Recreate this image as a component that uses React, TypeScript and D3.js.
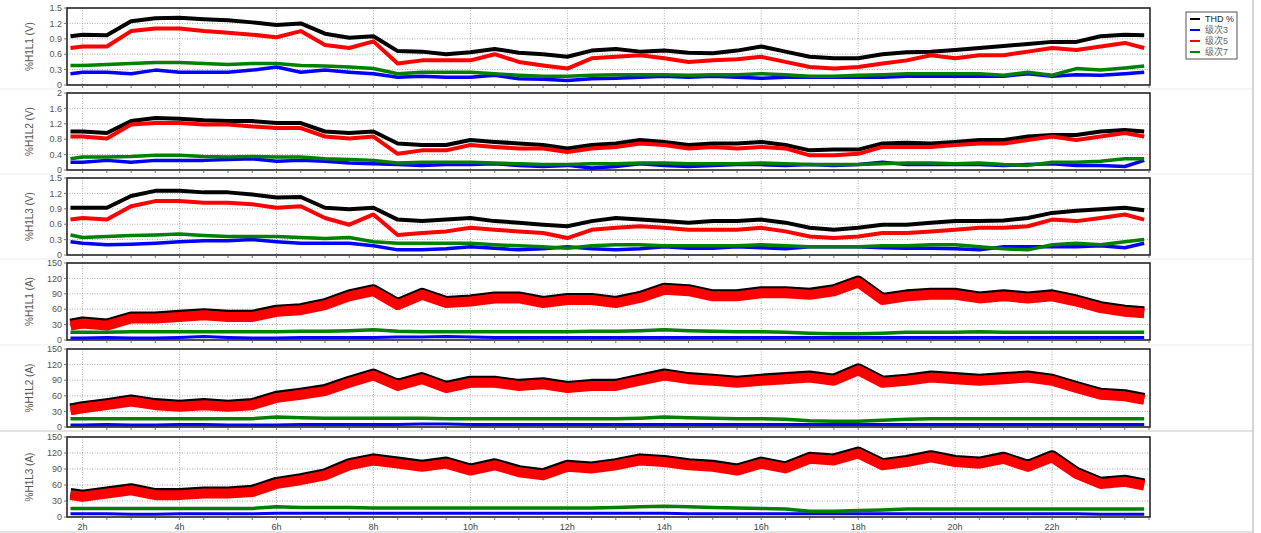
import * as d3 from 'd3';

// sample times (hours of day)
const times = [1.75, 2, 2.5, 3, 3.5, 4, 4.5, 5, 5.5, 6, 6.5, 7, 7.5, 8, 8.5, 9, 9.5, 10, 10.5, 11, 11.5, 12,
  12.5, 13, 13.5, 14, 14.5, 15, 15.5, 16, 16.5, 17, 17.5, 18, 18.5, 19, 19.5, 20, 20.5, 21, 21.5, 22, 22.5, 23, 23.5, 23.9];

const hourTicks = [2, 4, 6, 8, 10, 12, 14, 16, 18, 20, 22];
const hourLabels = ['2h', '4h', '6h', '8h', '10h', '12h', '14h', '16h', '18h', '20h', '22h'];

const ticksV15 = [0, 0.3, 0.6, 0.9, 1.2, 1.5];
const ticksV20 = [0, 0.4, 0.8, 1.2, 1.6, 2];
const ticksA = [0, 30, 60, 90, 120, 150];

const seriesNames = ['THD %', '级次3', '级次5', '级次7'];

// %H1L1 (V)
const thdL1V = [0.95, 0.98, 0.97, 1.24, 1.30, 1.31, 1.28, 1.26, 1.22, 1.17, 1.20, 1.00, 0.92, 0.95, 0.66, 0.65, 0.60, 0.64, 0.70, 0.63, 0.60, 0.55, 0.67, 0.70, 0.65, 0.67, 0.63, 0.62, 0.67, 0.75, 0.65, 0.55, 0.52, 0.52, 0.60, 0.64, 0.65, 0.68, 0.72, 0.76, 0.80, 0.84, 0.84, 0.95, 0.98, 0.97];
const h3L1V = [0.22, 0.25, 0.25, 0.22, 0.29, 0.25, 0.25, 0.25, 0.29, 0.35, 0.25, 0.29, 0.25, 0.22, 0.15, 0.17, 0.15, 0.15, 0.19, 0.12, 0.11, 0.09, 0.12, 0.13, 0.15, 0.17, 0.15, 0.17, 0.15, 0.13, 0.15, 0.15, 0.15, 0.15, 0.15, 0.17, 0.17, 0.17, 0.17, 0.17, 0.22, 0.17, 0.20, 0.19, 0.22, 0.25];
const h5L1V = [0.72, 0.75, 0.75, 1.05, 1.10, 1.10, 1.05, 1.02, 0.98, 0.93, 1.05, 0.78, 0.72, 0.85, 0.42, 0.48, 0.48, 0.48, 0.60, 0.45, 0.38, 0.32, 0.52, 0.55, 0.58, 0.52, 0.45, 0.48, 0.50, 0.55, 0.45, 0.35, 0.32, 0.35, 0.42, 0.48, 0.58, 0.52, 0.58, 0.58, 0.65, 0.72, 0.68, 0.75, 0.82, 0.72];
const h7L1V = [0.38, 0.38, 0.40, 0.42, 0.44, 0.44, 0.42, 0.40, 0.42, 0.42, 0.38, 0.37, 0.35, 0.32, 0.22, 0.25, 0.25, 0.25, 0.22, 0.19, 0.17, 0.17, 0.19, 0.20, 0.20, 0.20, 0.19, 0.20, 0.20, 0.22, 0.20, 0.17, 0.17, 0.19, 0.20, 0.22, 0.22, 0.22, 0.22, 0.19, 0.25, 0.19, 0.32, 0.29, 0.33, 0.37];

// %H1L2 (V)
const thdL2V = [1.0, 1.0, 0.96, 1.27, 1.35, 1.33, 1.29, 1.27, 1.27, 1.22, 1.22, 1.0, 0.96, 1.0, 0.69, 0.65, 0.65, 0.78, 0.73, 0.69, 0.65, 0.56, 0.65, 0.69, 0.78, 0.73, 0.65, 0.69, 0.69, 0.73, 0.65, 0.51, 0.53, 0.53, 0.69, 0.71, 0.69, 0.73, 0.78, 0.78, 0.87, 0.91, 0.91, 1.0, 1.04, 1.0];
const h3L2V = [0.20, 0.20, 0.25, 0.20, 0.25, 0.25, 0.25, 0.27, 0.29, 0.23, 0.25, 0.23, 0.18, 0.16, 0.14, 0.12, 0.14, 0.14, 0.16, 0.12, 0.09, 0.12, 0.05, 0.09, 0.16, 0.12, 0.09, 0.12, 0.14, 0.14, 0.12, 0.14, 0.12, 0.14, 0.20, 0.14, 0.14, 0.14, 0.14, 0.12, 0.14, 0.16, 0.12, 0.12, 0.09, 0.25];
const h5L2V = [0.87, 0.87, 0.82, 1.18, 1.22, 1.22, 1.18, 1.18, 1.13, 1.09, 1.09, 0.87, 0.82, 0.87, 0.42, 0.51, 0.51, 0.65, 0.60, 0.56, 0.56, 0.47, 0.56, 0.60, 0.69, 0.65, 0.56, 0.60, 0.56, 0.60, 0.56, 0.38, 0.38, 0.42, 0.60, 0.60, 0.60, 0.65, 0.69, 0.69, 0.78, 0.87, 0.78, 0.87, 0.96, 0.87];
const h7L2V = [0.29, 0.34, 0.34, 0.35, 0.38, 0.38, 0.35, 0.34, 0.35, 0.34, 0.34, 0.29, 0.27, 0.25, 0.18, 0.20, 0.20, 0.20, 0.18, 0.16, 0.14, 0.14, 0.16, 0.16, 0.18, 0.18, 0.16, 0.16, 0.16, 0.18, 0.16, 0.14, 0.14, 0.14, 0.16, 0.18, 0.18, 0.16, 0.18, 0.14, 0.12, 0.20, 0.20, 0.23, 0.29, 0.29];

// %H1L3 (V)
const thdL3V = [0.92, 0.92, 0.92, 1.15, 1.25, 1.25, 1.22, 1.22, 1.18, 1.12, 1.13, 0.92, 0.89, 0.92, 0.69, 0.66, 0.69, 0.72, 0.66, 0.63, 0.59, 0.56, 0.66, 0.72, 0.69, 0.66, 0.63, 0.66, 0.66, 0.69, 0.63, 0.53, 0.49, 0.53, 0.59, 0.59, 0.63, 0.66, 0.66, 0.67, 0.72, 0.82, 0.86, 0.89, 0.92, 0.87];
const h3L3V = [0.26, 0.23, 0.20, 0.21, 0.23, 0.26, 0.28, 0.28, 0.30, 0.26, 0.23, 0.23, 0.23, 0.18, 0.10, 0.10, 0.12, 0.16, 0.13, 0.10, 0.12, 0.16, 0.12, 0.10, 0.12, 0.16, 0.13, 0.13, 0.16, 0.14, 0.12, 0.16, 0.16, 0.16, 0.14, 0.13, 0.13, 0.12, 0.10, 0.16, 0.16, 0.16, 0.16, 0.18, 0.14, 0.23];
const h5L3V = [0.69, 0.72, 0.69, 0.95, 1.05, 1.05, 1.02, 1.02, 0.99, 0.92, 0.95, 0.72, 0.59, 0.79, 0.39, 0.43, 0.46, 0.53, 0.49, 0.46, 0.43, 0.33, 0.49, 0.53, 0.56, 0.53, 0.49, 0.49, 0.49, 0.53, 0.46, 0.36, 0.33, 0.36, 0.43, 0.43, 0.46, 0.49, 0.53, 0.53, 0.56, 0.69, 0.66, 0.72, 0.79, 0.69];
const h7L3V = [0.39, 0.34, 0.36, 0.38, 0.39, 0.41, 0.38, 0.36, 0.36, 0.36, 0.34, 0.32, 0.34, 0.26, 0.23, 0.23, 0.23, 0.23, 0.20, 0.18, 0.16, 0.13, 0.18, 0.20, 0.20, 0.18, 0.18, 0.18, 0.18, 0.20, 0.18, 0.16, 0.16, 0.16, 0.18, 0.18, 0.20, 0.20, 0.16, 0.12, 0.10, 0.20, 0.23, 0.20, 0.26, 0.30];

// %H1L1 (A)
const thdL1A = [31, 35, 31, 45, 45, 48, 51, 48, 48, 58, 61, 71, 88, 98, 71, 91, 75, 78, 84, 84, 75, 81, 81, 75, 85, 101, 98, 88, 88, 94, 94, 91, 98, 115, 81, 88, 91, 91, 84, 88, 84, 88, 78, 65, 58, 55];
const h3L1A = [4, 4, 5, 4, 4, 5, 7, 5, 4, 4, 5, 5, 5, 5, 6, 6, 7, 6, 5, 5, 5, 5, 5, 5, 5, 5, 5, 5, 5, 5, 5, 5, 5, 5, 5, 5, 5, 5, 5, 5, 5, 5, 5, 5, 5, 5];
const h5L1A = [28, 32, 28, 42, 42, 45, 48, 45, 45, 55, 58, 68, 85, 95, 68, 88, 72, 75, 81, 81, 72, 78, 78, 72, 82, 98, 95, 85, 85, 91, 91, 88, 95, 112, 78, 85, 88, 88, 81, 85, 81, 85, 75, 62, 55, 52];
const h7L1A = [15, 15, 15, 16, 16, 16, 16, 16, 16, 16, 17, 17, 18, 20, 17, 16, 16, 16, 16, 16, 16, 16, 17, 17, 18, 20, 18, 17, 16, 16, 15, 13, 12, 12, 13, 15, 15, 15, 16, 15, 15, 15, 15, 15, 15, 15];

// %H1L2 (A)
const thdL2A = [35, 39, 45, 52, 45, 42, 45, 42, 45, 59, 65, 72, 88, 102, 82, 95, 78, 88, 88, 82, 85, 78, 82, 82, 92, 102, 95, 92, 88, 92, 95, 98, 92, 112, 88, 92, 98, 95, 92, 95, 98, 92, 78, 65, 62, 55];
const h3L2A = [4, 4, 5, 4, 4, 5, 5, 4, 4, 4, 5, 5, 5, 5, 5, 6, 6, 5, 5, 5, 5, 5, 5, 5, 5, 5, 5, 5, 5, 5, 5, 5, 5, 5, 5, 5, 5, 5, 5, 5, 5, 5, 5, 5, 5, 5];
const h5L2A = [32, 36, 42, 49, 42, 39, 42, 39, 42, 56, 62, 69, 85, 99, 79, 92, 75, 85, 85, 79, 82, 75, 79, 79, 89, 99, 92, 89, 85, 89, 92, 95, 89, 109, 85, 89, 95, 92, 89, 92, 95, 89, 75, 62, 59, 52];
const h7L2A = [16, 16, 16, 16, 16, 16, 16, 16, 16, 19, 18, 17, 17, 17, 17, 17, 16, 16, 16, 16, 16, 16, 16, 16, 17, 19, 18, 17, 16, 16, 15, 12, 11, 11, 13, 15, 16, 16, 16, 16, 16, 16, 16, 16, 16, 16];

// %H1L3 (A)
const thdL3A = [44, 41, 47, 53, 44, 44, 47, 47, 50, 65, 72, 81, 100, 109, 103, 97, 103, 90, 100, 87, 81, 97, 94, 100, 109, 106, 100, 97, 90, 103, 94, 112, 109, 122, 100, 106, 115, 106, 103, 112, 97, 115, 84, 65, 69, 62];
const h3L3A = [6, 6, 6, 5, 5, 6, 6, 6, 6, 7, 7, 7, 7, 7, 7, 7, 7, 7, 7, 7, 7, 7, 7, 7, 7, 7, 6, 6, 6, 6, 6, 6, 6, 6, 6, 6, 6, 6, 6, 6, 6, 6, 6, 5, 5, 5];
const h5L3A = [41, 38, 44, 50, 41, 41, 44, 44, 47, 62, 69, 78, 97, 106, 100, 94, 100, 87, 97, 84, 78, 94, 91, 97, 106, 103, 97, 94, 87, 100, 91, 109, 106, 119, 97, 103, 112, 103, 100, 109, 94, 112, 81, 62, 66, 59];
const h7L3A = [16, 16, 16, 16, 16, 16, 16, 16, 16, 19, 18, 18, 18, 17, 17, 17, 17, 17, 17, 17, 17, 17, 17, 18, 19, 20, 19, 18, 17, 16, 15, 11, 11, 12, 13, 15, 15, 15, 15, 15, 15, 15, 15, 15, 15, 15];

const panels = [
  { label: '%H1L1 (V)', top: 8, bottom: 85, max: 1.5, ticks: ticksV15, data: [thdL1V, h3L1V, h5L1V, h7L1V], amp: false },
  { label: '%H1L2 (V)', top: 93, bottom: 170, max: 2, ticks: ticksV20, data: [thdL2V, h3L2V, h5L2V, h7L2V], amp: false },
  { label: '%H1L3 (V)', top: 178, bottom: 255, max: 1.5, ticks: ticksV15, data: [thdL3V, h3L3V, h5L3V, h7L3V], amp: false },
  { label: '%H1L1 (A)', top: 263, bottom: 340, max: 150, ticks: ticksA, data: [thdL1A, h3L1A, h5L1A, h7L1A], amp: true },
  { label: '%H1L2 (A)', top: 349, bottom: 427, max: 150, ticks: ticksA, data: [thdL2A, h3L2A, h5L2A, h7L2A], amp: true },
  { label: '%H1L3 (A)', top: 437, bottom: 517, max: 150, ticks: ticksA, data: [thdL3A, h3L3A, h5L3A, h7L3A], amp: true },
];

const colors = ['#000000', '#0000ff', '#ff0000', '#008000'];
const W = 1261;
const H = 533;
const left = 67;
const right = 1150;
const font = '"Liberation Sans", Arial, "Noto Sans CJK SC", sans-serif';

const x = d3.scaleLinear().domain([1.678, 24.02]).range([left, right]);
const minorTicks = d3.range(2, 24.01, 0.5);

function Panel({ p, idx }) {
  const y = d3.scaleLinear().domain([0, p.max]).range([p.bottom, p.top]);
  const line = d3.line<number>()
    .x((d, i) => x(times[i]))
    .y((d) => y(d));
  // black, blue, red, green
  const widths = p.amp ? [11, 3, 10, 3.5] : [4, 3.5, 4, 3.5];
  const clipId = `clip${idx}`;
  return (
    <g>
      <clipPath id={clipId}>
        <rect x={left} y={p.top} width={right - left} height={p.bottom - p.top} />
      </clipPath>
      {p.ticks.map((t) => (
        <line key={`h${t}`} x1={left} x2={right} y1={y(t)} y2={y(t)}
          stroke="#9a9a9a" strokeWidth={0.8} strokeDasharray="1,1.5" />
      ))}
      {hourTicks.map((h) => (
        <line key={`v${h}`} x1={x(h)} x2={x(h)} y1={p.top} y2={p.bottom}
          stroke="#9a9a9a" strokeWidth={0.8} strokeDasharray="1,1.5" />
      ))}
      <g clipPath={`url(#${clipId})`}>
        {[0, 1, 2, 3].map((s) => (
          <path key={s} d={line(p.data[s]) || ''} fill="none" stroke={colors[s]}
            strokeWidth={widths[s]} strokeLinejoin="round" />
        ))}
      </g>
      <rect x={left} y={p.top} width={right - left} height={p.bottom - p.top}
        fill="none" stroke="#1a1a1a" strokeWidth={1.5} />
      {minorTicks.map((t) => (
        <line key={`m${t}`} x1={x(t)} x2={x(t)} y1={p.bottom} y2={p.bottom + 3} stroke="#555" strokeWidth={0.8} />
      ))}
      {p.ticks.map((t) => (
        <g key={`yl${t}`}>
          <line x1={left - 3} x2={left} y1={y(t)} y2={y(t)} stroke="#555" strokeWidth={0.8} />
          <text x={left - 5} y={y(t)} dy="0.35em" textAnchor="end" fontSize={9} fill="#555" fontFamily={font}>
            {String(t)}
          </text>
        </g>
      ))}
      <text transform={`translate(${29},${(p.top + p.bottom) / 2}) rotate(-90)`} textAnchor="middle"
        dy="0.35em" fontSize={10} fill="#555" fontFamily={font}>
        {p.label}
      </text>
    </g>
  );
}

export default function App() {
  const last = panels[panels.length - 1];
  return (
    <svg width={W} height={H} style={{ position: 'absolute', left: 0, top: 0, background: '#fff' }}>
      <rect width={W} height={H} fill="#fff" />
      {[89, 174, 259, 345].map((yy) => (
        <line key={yy} x1={0} x2={1253} y1={yy} y2={yy} stroke="#ececec" strokeWidth={1} />
      ))}
      {[431, 532].map((yy) => (
        <line key={yy} x1={0} x2={1253} y1={yy} y2={yy} stroke="#c8c8c8" strokeWidth={1} />
      ))}
      <line x1={1253} x2={1253} y1={0} y2={H} stroke="#c8c8c8" strokeWidth={1.5} />
      {panels.map((p, i) => <Panel key={p.label} p={p} idx={i} />)}
      {hourTicks.map((h, i) => (
        <text key={h} x={x(h)} y={last.bottom + 13} textAnchor="middle" fontSize={9} fill="#444" fontFamily={font}>
          {hourLabels[i]}
        </text>
      ))}
      <g>
        <rect x={1186} y={12} width={51} height={47} fill="#fff" stroke="#555" strokeWidth={1} />
        {seriesNames.map((n, i) => (
          <g key={n}>
            <line x1={1190} x2={1200} y1={19 + i * 11} y2={19 + i * 11} stroke={colors[i]} strokeWidth={2} />
            <text x={1205} y={19 + i * 11} dy="0.35em" fontSize={9} fill={i === 0 ? '#222' : '#666'} fontFamily={font}>
              {n}
            </text>
          </g>
        ))}
      </g>
    </svg>
  );
}
